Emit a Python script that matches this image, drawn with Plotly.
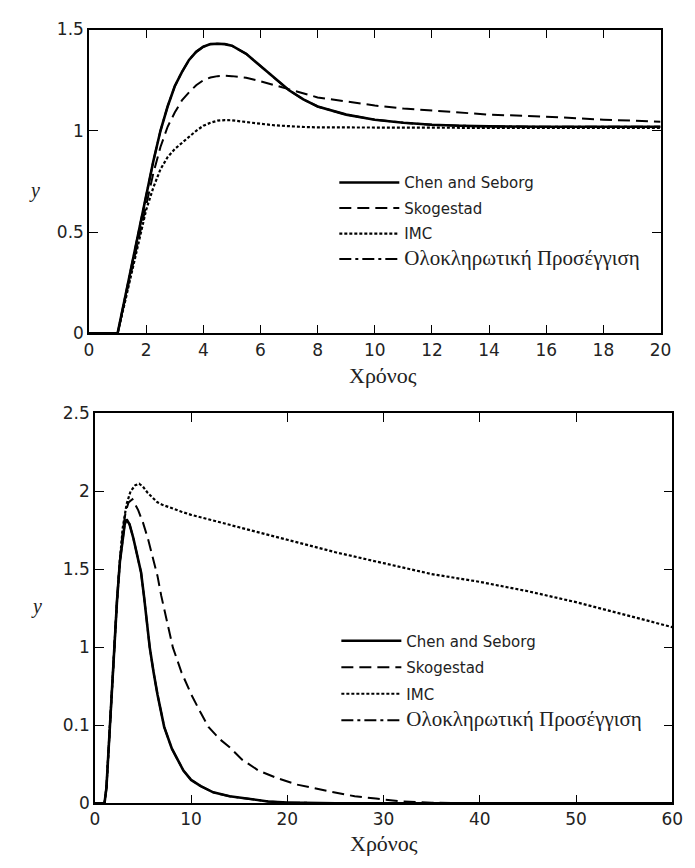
import plotly.graph_objects as go

# ---------------- Top panel data (time 0-20) ----------------
t_top = [0, 1, 1.25, 1.5, 1.75, 2, 2.25, 2.5, 2.75, 3, 3.25, 3.5, 3.75, 4, 4.25, 4.5, 4.75, 5, 5.5, 6, 6.5, 7, 7.5, 8,
         9, 10, 11, 12, 13, 14, 16, 18, 20]
chen_top = [0, 0, 0.17, 0.34, 0.51, 0.68, 0.85, 1.0, 1.12, 1.22, 1.29, 1.35, 1.39, 1.415, 1.428, 1.43, 1.428, 1.42,
            1.38, 1.32, 1.26, 1.20, 1.155, 1.12, 1.08, 1.055, 1.04, 1.03, 1.025, 1.022, 1.02, 1.02, 1.02]
skog_top = [0, 0, 0.16, 0.32, 0.48, 0.64, 0.79, 0.92, 1.02, 1.09, 1.15, 1.19, 1.225, 1.25, 1.263, 1.27, 1.272, 1.27,
            1.262, 1.245, 1.225, 1.205, 1.185, 1.165, 1.145, 1.125, 1.11, 1.10, 1.09, 1.08, 1.07, 1.055, 1.045]
imc_top = [0, 0, 0.15, 0.30, 0.45, 0.61, 0.72, 0.81, 0.87, 0.91, 0.94, 0.97, 1.0, 1.025, 1.04, 1.05, 1.053, 1.052,
           1.045, 1.035, 1.027, 1.022, 1.019, 1.017, 1.016, 1.015, 1.015, 1.015, 1.015, 1.015, 1.015, 1.015, 1.015]
integ_top = [0, 0, 0.17, 0.34, 0.51, 0.68, 0.85, 1.0, 1.12, 1.22, 1.29, 1.35, 1.39, 1.415, 1.428, 1.43, 1.428, 1.42,
             1.38, 1.32, 1.26, 1.20, 1.155, 1.12, 1.08, 1.055, 1.04, 1.03, 1.025, 1.022, 1.02, 1.02, 1.02]

# ---------------- Bottom panel data (time 0-60) ----------------
t_bot_chen = [0, 1, 1.2, 1.5, 1.8, 2.0, 2.3, 2.6, 2.9, 3.1, 3.3, 3.6, 4.0, 4.4, 4.8, 5.1, 5.4, 5.7, 6.1, 6.5, 7.2, 8,
              9.2, 10, 11, 12.3, 14, 15.7, 18, 20, 25, 30, 40, 50, 60]
chen_bot = [0, 0, 0.1, 0.45, 0.8, 1.0, 1.3, 1.55, 1.72, 1.79, 1.82, 1.79, 1.7, 1.6, 1.48, 1.33, 1.17, 1.0, 0.84, 0.7,
            0.49, 0.35, 0.21, 0.15, 0.11, 0.07, 0.045, 0.03, 0.012, 0.005, 0, 0, 0, 0, 0]
integ_bot = [0, 0, 0.1, 0.45, 0.8, 1.0, 1.3, 1.55, 1.72, 1.79, 1.82, 1.79, 1.7, 1.6, 1.48, 1.33, 1.17, 1.0, 0.84, 0.7,
             0.49, 0.35, 0.21, 0.15, 0.11, 0.07, 0.045, 0.03, 0.012, 0.005, 0, 0, 0, 0, 0]

t_bot_skog = [0, 1, 1.2, 1.5, 1.8, 2.0, 2.3, 2.6, 2.9, 3.2, 3.5, 3.9, 4.5, 5, 5.5, 6, 6.5, 6.9, 7.5, 8.1, 9, 10, 11,
              11.8, 13, 14, 15.3, 17, 19, 21, 24.5, 27, 29.2, 32, 35, 40, 50, 60]
skog_bot = [0, 0, 0.1, 0.45, 0.8, 1.0, 1.3, 1.56, 1.75, 1.87, 1.93, 1.95, 1.88, 1.8, 1.7, 1.58, 1.46, 1.33, 1.16, 1.0,
            0.84, 0.70, 0.58, 0.49, 0.41, 0.36, 0.28, 0.21, 0.16, 0.12, 0.075, 0.045, 0.03, 0.012, 0.004, 0, 0, 0]

t_bot_imc = [0, 1, 1.2, 1.5, 1.8, 2.0, 2.3, 2.6, 2.9, 3.3, 3.7, 4.2, 4.6, 5.0, 5.5, 6, 6.5, 7, 8, 9, 10, 12, 15,
             20, 25, 30, 35, 40, 45, 50, 55, 60]
imc_bot = [0, 0, 0.1, 0.45, 0.8, 1.0, 1.3, 1.56, 1.77, 1.92, 2.0, 2.04, 2.05, 2.03, 1.99, 1.96, 1.93, 1.915,
           1.89, 1.87, 1.85, 1.82, 1.77, 1.69, 1.61, 1.54, 1.47, 1.42, 1.36, 1.29, 1.21, 1.13]

# ---------------- Labels ----------------
names = ["Chen and Seborg", "Skogestad", "IMC", "Ολοκληρωτική Προσέγγιση"]
x_title = "Χρόνος"
top_xticks = [0, 2, 4, 6, 8, 10, 12, 14, 16, 18, 20]
top_yticks = [0, 0.5, 1, 1.5]
top_yticktext = ["0", "0.5", "1", "1.5"]
bot_xticks = [0, 10, 20, 30, 40, 50, 60]
bot_yticks = [0, 0.5, 1, 1.5, 2, 2.5]
bot_yticktext = ["0", "0.1", "1", "1.5", "2", "2.5"]

W, H = 695, 868
SERIF = "Liberation Serif, Times New Roman, serif"
SANS = "DejaVu Sans, Liberation Sans, sans-serif"

styles = [
    dict(color="black", width=2.6, dash="solid"),
    dict(color="black", width=2.0, dash="12px,6px"),
    dict(color="black", width=2.2, dash="3px,2px"),
    dict(color="black", width=2.0, dash="12px,4px,3px,4px"),
]

def legend_name(n):
    if n.startswith("Ολοκ"):
        return '<span style="font-family:Liberation Serif;font-size:21px">' + n + "</span>"
    return n

fig = go.Figure()

top_series = [(t_top, chen_top), (t_top, skog_top), (t_top, imc_top), (t_top, integ_top)]
bot_series = [(t_bot_chen, chen_bot), (t_bot_skog, skog_bot), (t_bot_imc, imc_bot), (t_bot_chen, integ_bot)]

for i in range(4):
    xs, ys = top_series[i]
    fig.add_trace(go.Scatter(x=xs, y=ys, mode="lines", line=styles[i],
                             name=legend_name(names[i]), legend="legend", legendgroup="t%d" % i,
                             xaxis="x", yaxis="y"))
for i in range(4):
    xs, ys = bot_series[i]
    fig.add_trace(go.Scatter(x=xs, y=ys, mode="lines", line=styles[i],
                             name=legend_name(names[i]), legend="legend2", legendgroup="b%d" % i,
                             xaxis="x2", yaxis="y2"))

axis_common = dict(showline=True, linecolor="black", linewidth=1.5, mirror="ticks",
                   ticks="inside", ticklen=9, tickwidth=1.3, tickcolor="black",
                   showgrid=False, zeroline=False,
                   tickfont=dict(family=SANS, size=17, color="#222"))

fig.update_layout(
    width=W, height=H,
    margin=dict(l=0, r=0, t=0, b=0),
    paper_bgcolor="white", plot_bgcolor="white",
    xaxis=dict(domain=[86 / W, 671 / W], range=[0, 20], tickvals=top_xticks, anchor="y", **axis_common),
    yaxis=dict(domain=[1 - 331 / H, 1 - 20 / H], range=[0, 1.5], tickvals=top_yticks, ticktext=top_yticktext,
               anchor="x", **axis_common),
    xaxis2=dict(domain=[92 / W, 683 / W], range=[0, 60], tickvals=bot_xticks, anchor="y2", **axis_common),
    yaxis2=dict(domain=[1 - 812 / H, 1 - 413 / H], range=[0, 2.5], tickvals=bot_yticks, ticktext=bot_yticktext,
                anchor="x2", **axis_common),
    legend=dict(x=0.485, y=1 - 160 / H, xanchor="left", yanchor="top", bgcolor="rgba(0,0,0,0)",
                font=dict(family=SANS, size=15, color="#222"), tracegroupgap=3, itemwidth=60),
    legend2=dict(x=0.488, y=1 - 629 / H, xanchor="left", yanchor="top", bgcolor="rgba(0,0,0,0)",
                 font=dict(family=SANS, size=15, color="#222"), tracegroupgap=4, itemwidth=60),
    showlegend=True,
)

annos = [
    dict(text="<i>y</i>", x=30 / W, y=1 - 185 / H, size=20),
    dict(text="<i>y</i>", x=32 / W, y=1 - 611 / H, size=20),
    dict(text=x_title, x=387 / W, y=1 - 374 / H, size=22),
    dict(text=x_title, x=388 / W, y=1 - 853 / H, size=22),
]
for a in annos:
    sz = a.pop("size")
    fig.add_annotation(xref="paper", yref="paper", showarrow=False, xanchor="center", yanchor="middle",
                       font=dict(family=SERIF, size=sz, color="#222"), **a)

fig.write_html("out.html")
